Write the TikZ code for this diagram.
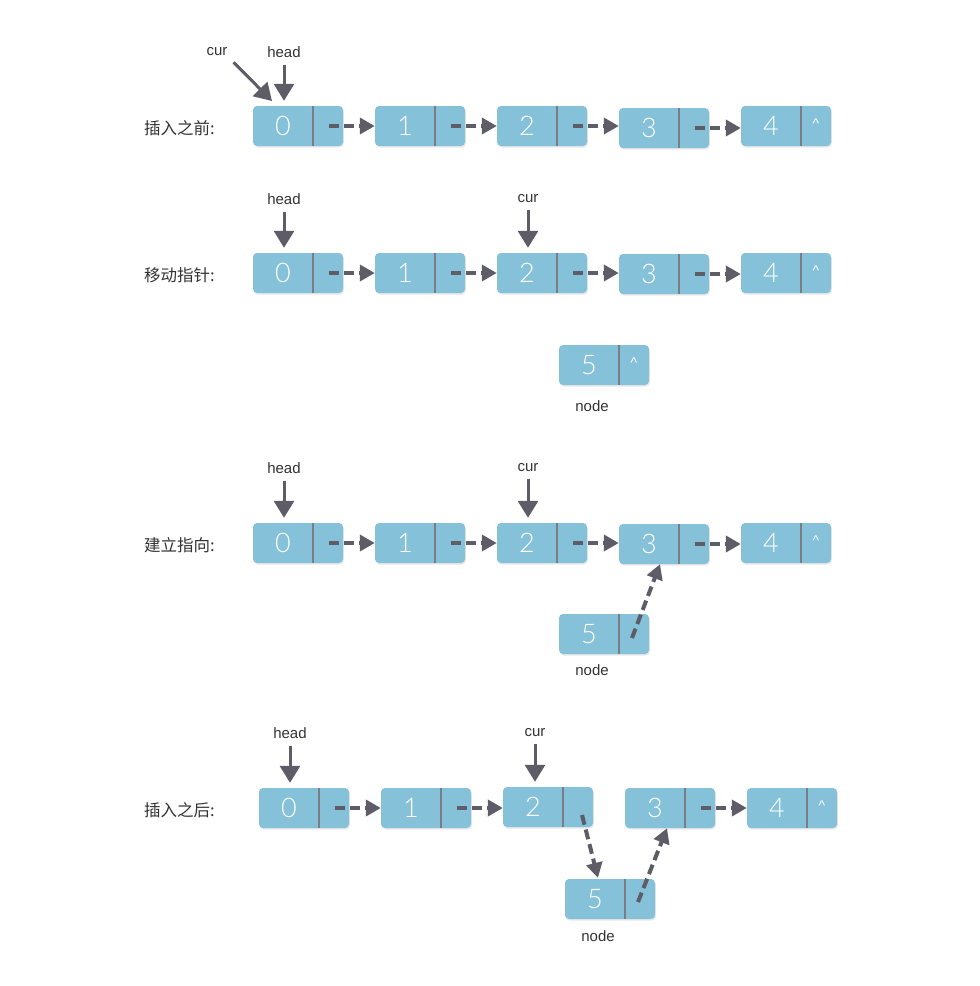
\documentclass[tikz,border=0pt]{standalone}
\usepackage{fontspec}
\setmainfont{Liberation Sans}
\newfontfamily\cjk{Noto Sans CJK SC}
\newfontfamily\digitfont{Lato Light}
\usetikzlibrary{arrows.meta,shadows}
\definecolor{boxblue}{HTML}{86C1DA}
\definecolor{divgray}{HTML}{7C7C84}
\definecolor{arrgray}{HTML}{5E5D67}
\definecolor{txtgray}{HTML}{333333}
\tikzset{
  lbox/.style={rectangle, rounded corners=4pt, fill=boxblue, minimum width=90pt, minimum height=40pt, inner sep=0pt,
    drop shadow={opacity=0.18, shadow xshift=0.8pt, shadow yshift=-1.5pt}},
  val/.style={text=white, font=\digitfont\fontsize{27}{27}\selectfont, inner sep=0pt},
  ptrtxt/.style={text=white, font=\fontsize{14}{14}\selectfont, inner sep=0pt},
  divider/.style={draw=divgray, line width=2.4pt},
  lbl/.style={text=txtgray, font=\fontsize{15}{15}\selectfont, inner sep=0pt},
  rowlbl/.style={text=txtgray, font=\cjk\fontsize{16.5}{16.5}\selectfont, inner sep=0pt, anchor=west},
  ptrarrow/.style={draw=arrgray, line width=3pt, -{Triangle[length=17pt,width=20pt]}},
  linkarrow/.style={draw=arrgray, line width=4pt, dash pattern=on 10pt off 5pt, -{Triangle[length=15pt,width=16pt]}},
}
\newcommand\lnode[5]{%
  \node[lbox] (#1) at (#2+45,#3) {};
  \node[val] (#1v) at (#2+30,#3) {#4};
  \draw[divider] (#2+60,#3-20) -- (#2+60,#3+20);
  \coordinate (#1p) at (#2+76,#3);
  \node[ptrtxt] (#1c) at (#2+75,#3-2) {#5};
}
\begin{document}
\begin{tikzpicture}[x=1pt,y=-1pt]
\useasboundingbox (0,0) rectangle (980,986);
\fill[white] (0,0) rectangle (980,986);

% Row 1
\node[rowlbl] (r1) at (144,128) {插入之前:};
\lnode{a0}{253}{126}{0}{}
\lnode{a1}{375}{126}{1}{}
\lnode{a2}{497}{126}{2}{}
\lnode{a3}{619}{128}{3}{}
\lnode{a4}{741}{126}{4}{\textasciicircum}
\draw[linkarrow] (a0p) -- (a1.west);
\draw[linkarrow] (a1p) -- (a2.west);
\draw[linkarrow] (a2p) -- (a3.west|-a2p);
\draw[linkarrow] (a3p) -- (a4.west|-a3p);
\node[lbl] (curA) at (217,52) {cur};
\node[lbl] (headA) at (284,52) {head};
\coordinate (curAt) at (272,101);
\draw[ptrarrow] ([shift={(6pt,-6pt)}]curA.south east) -- (curAt);
\draw[ptrarrow] ([yshift=-7pt]headA.south) -- ([yshift=5pt]a0.north-|headA.south);

% Row 2
\node[rowlbl] (r2) at (144,275) {移动指针:};
\lnode{b0}{253}{273}{0}{}
\lnode{b1}{375}{273}{1}{}
\lnode{b2}{497}{273}{2}{}
\lnode{b3}{619}{274}{3}{}
\lnode{b4}{741}{273}{4}{\textasciicircum}
\draw[linkarrow] (b0p) -- (b1.west);
\draw[linkarrow] (b1p) -- (b2.west);
\draw[linkarrow] (b2p) -- (b3.west|-b2p);
\draw[linkarrow] (b3p) -- (b4.west|-b3p);
\node[lbl] (headB) at (284,199) {head};
\node[lbl] (curB) at (528,199) {cur};
\draw[ptrarrow] ([yshift=-7pt]headB.south) -- ([yshift=5pt]b0.north-|headB.south);
\draw[ptrarrow] ([yshift=-7pt]curB.south) -- ([yshift=5pt]b2.north-|curB.south);
\lnode{n2}{559}{365}{5}{\textasciicircum}
\node[lbl] (nodeB) at (592,406) {node};

% Row 3
\node[rowlbl] (r3) at (144,545) {建立指向:};
\lnode{c0}{253}{543}{0}{}
\lnode{c1}{375}{543}{1}{}
\lnode{c2}{497}{543}{2}{}
\lnode{c3}{619}{544}{3}{}
\lnode{c4}{741}{543}{4}{\textasciicircum}
\draw[linkarrow] (c0p) -- (c1.west);
\draw[linkarrow] (c1p) -- (c2.west);
\draw[linkarrow] (c2p) -- (c3.west|-c2p);
\draw[linkarrow] (c3p) -- (c4.west|-c3p);
\node[lbl] (headC) at (284,468) {head};
\node[lbl] (curC) at (528,468) {cur};
\draw[ptrarrow] ([yshift=-7pt]headC.south) -- ([yshift=5pt]c0.north-|headC.south);
\draw[ptrarrow] ([yshift=-7pt]curC.south) -- ([yshift=5pt]c2.north-|curC.south);
\lnode{n3}{559}{634}{5}{}
\node[lbl] (nodeC) at (592,670) {node};
\draw[linkarrow] ([shift={(-3pt,-4pt)}]n3p) -- ([xshift=-4pt]c3.south);

% Row 4
\node[rowlbl] (r4) at (144,810) {插入之后:};
\lnode{d0}{259}{808}{0}{}
\lnode{d1}{381}{808}{1}{}
\lnode{d2}{503}{807}{2}{}
\lnode{d3}{625}{808}{3}{}
\lnode{d4}{747}{808}{4}{\textasciicircum}
\draw[linkarrow] (d0p) -- (d1.west);
\draw[linkarrow] (d1p) -- (d2.west|-d1p);
\draw[linkarrow] (d3p) -- (d4.west);
\node[lbl] (headD) at (290,733) {head};
\node[lbl] (curD) at (535,733) {cur};
\draw[ptrarrow] ([yshift=-7pt]headD.south) -- ([yshift=5pt]d0.north-|headD.south);
\draw[ptrarrow] ([yshift=-7pt]curD.south) -- ([yshift=5pt]d2.north-|curD.south);
\lnode{n4}{565}{899}{5}{}
\node[lbl] (nodeD) at (598,936) {node};
\draw[linkarrow] ([shift={(3pt,-8pt)}]d2p) -- ([shift={(-12pt,1pt)}]n4.north);
\draw[linkarrow] ([shift={(-3pt,-3pt)}]n4p) -- ([xshift=-3pt]d3.south);
\end{tikzpicture}
\end{document}
